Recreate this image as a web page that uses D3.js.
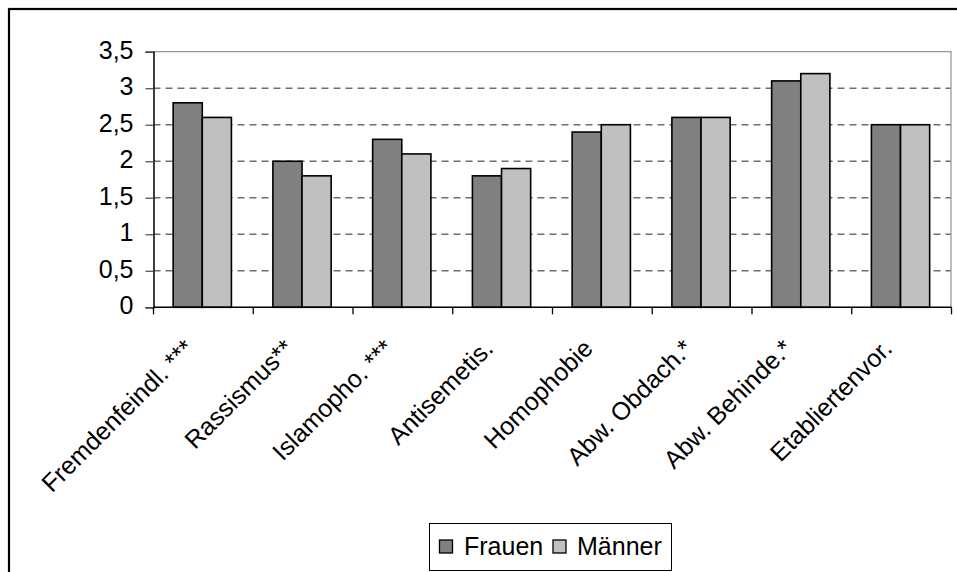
<!DOCTYPE html>
<html>
<head>
<meta charset="utf-8">
<script src="https://cdn.jsdelivr.net/npm/d3@7"></script>
<style>
  body { margin: 0; background: #fff; }
  svg { display: block; font-family: "Liberation Sans", Arial, sans-serif; }
</style>
</head>
<body>
<svg id="barChart" width="957" height="572"></svg>
<script>
const categories = ["Fremdenfeindl. ***", "Rassismus**", "Islamopho. ***", "Antisemetis.", "Homophobie", "Abw. Obdach.*", "Abw. Behinde.*", "Etabliertenvor."];
const frauen = [2.8, 2.0, 2.3, 1.8, 2.4, 2.6, 3.1, 2.5];
const maenner = [2.6, 1.8, 2.1, 1.9, 2.5, 2.6, 3.2, 2.5];
const seriesNames = ["Frauen", "Männer"];
const yTicks = [0, 0.5, 1, 1.5, 2, 2.5, 3, 3.5];

const drawBars = ()=>{
    let svg = d3.select("#barChart");

    // outer frame, cut off at the right and bottom like the source
    svg.append("rect")
    .attr("x", 9).attr("y", 9)
    .attr("width", 970).attr("height", 600)
    .attr("fill", "none")
    .attr("stroke", "#000")
    .attr("stroke-width", 2.2);

    let left = 153.5, right = 951.5, top = 51.7, bottom = 307.3;

    let xScale = d3.scaleBand().domain(categories).range([left, right]);
    let yScale = d3.scaleLinear().domain([0, 3.5]).range([bottom, top]);
    let step = xScale.step();
    let barW = step * 0.292;
    let offset = step * 0.197;

    let g = svg.append("g");

    // plot area border (top/right in grey)
    g.append("line")
    .attr("x1", left).attr("x2", right)
    .attr("y1", top).attr("y2", top)
    .attr("stroke", "#999").attr("stroke-width", 1.3);
    g.append("line")
    .attr("x1", right - 0.5).attr("x2", right - 0.5)
    .attr("y1", top).attr("y2", bottom)
    .attr("stroke", "#999").attr("stroke-width", 1.3);

    // dashed gridlines
    g.selectAll(".grid")
    .data(yTicks.filter(d=>d>0 && d<3.5))
    .enter().append("line")
    .attr("class", "grid")
    .attr("x1", left).attr("x2", right - 1)
    .attr("y1", d=>yScale(d)).attr("y2", d=>yScale(d))
    .attr("stroke", "#6e6e6e")
    .attr("stroke-width", 1.4)
    .attr("stroke-dasharray", "7,5");

    // bars
    let data = categories.map((c, i)=>({cat: c, f: frauen[i], m: maenner[i]}));

    g.selectAll(".barF")
    .data(data)
    .enter().append("rect")
    .attr("class", "barF")
    .attr("x", d=>xScale(d.cat) + offset)
    .attr("y", d=>yScale(d.f))
    .attr("width", barW)
    .attr("height", d=>bottom - yScale(d.f))
    .attr("fill", "#808080")
    .attr("stroke", "#000")
    .attr("stroke-width", 1.6);

    g.selectAll(".barM")
    .data(data)
    .enter().append("rect")
    .attr("class", "barM")
    .attr("x", d=>xScale(d.cat) + offset + barW)
    .attr("y", d=>yScale(d.m))
    .attr("width", barW)
    .attr("height", d=>bottom - yScale(d.m))
    .attr("fill", "#c0c0c0")
    .attr("stroke", "#000")
    .attr("stroke-width", 1.6);

    // y axis
    let yAxis = d3.axisLeft(yScale)
    .tickValues(yTicks)
    .tickSize(8)
    .tickPadding(12)
    .tickFormat(d=>String(d).replace(".", ","));

    let yG = g.append("g")
    .attr("transform", "translate(" + left + ",0)")
    .call(yAxis);
    yG.select(".domain").attr("stroke", "#000").attr("stroke-width", 1.5);
    yG.selectAll(".tick line").attr("stroke", "#555").attr("stroke-width", 1.3);
    yG.selectAll(".tick text")
    .attr("font-size", "25px")
    .attr("fill", "#000")
    .attr("dy", "0.26em");

    // x axis: ticks at category boundaries
    let xAxisLine = g.append("g");
    xAxisLine.append("line")
    .attr("x1", left).attr("x2", right)
    .attr("y1", bottom).attr("y2", bottom)
    .attr("stroke", "#000").attr("stroke-width", 1.5);
    xAxisLine.selectAll(".xtick")
    .data(categories.concat(["end"]))
    .enter().append("line")
    .attr("class", "xtick")
    .attr("x1", (d, i)=>left + i * step).attr("x2", (d, i)=>left + i * step)
    .attr("y1", bottom).attr("y2", bottom + 7)
    .attr("stroke", "#000").attr("stroke-width", 1.3);

    g.selectAll(".xlabel")
    .data(categories)
    .enter().append("text")
    .attr("class", "xlabel")
    .attr("text-anchor", "end")
    .attr("font-size", "25px")
    .attr("transform", d=>"translate(" + (xScale(d) + step / 2 - 8) + "," + 350 + ") rotate(-45)")
    .text(d=>d);

    // legend
    let lg = svg.append("g");
    lg.append("rect")
    .attr("x", 429.5).attr("y", 523.5)
    .attr("width", 242).attr("height", 47)
    .attr("fill", "#fff")
    .attr("stroke", "#000").attr("stroke-width", 1);

    let swatchX = [439.5, 553];
    let textX = [464, 577];
    let colors = ["#808080", "#c0c0c0"];
    seriesNames.forEach((name, i)=>{
        lg.append("rect")
        .attr("x", swatchX[i]).attr("y", 540)
        .attr("width", 13).attr("height", 13)
        .attr("fill", colors[i])
        .attr("stroke", "#000").attr("stroke-width", 1.3);
        lg.append("text")
        .attr("x", textX[i]).attr("y", 554.5)
        .attr("font-size", "25px")
        .text(name);
    });
}

window.onload = function(){
    drawBars();
}
</script>
</body>
</html>
